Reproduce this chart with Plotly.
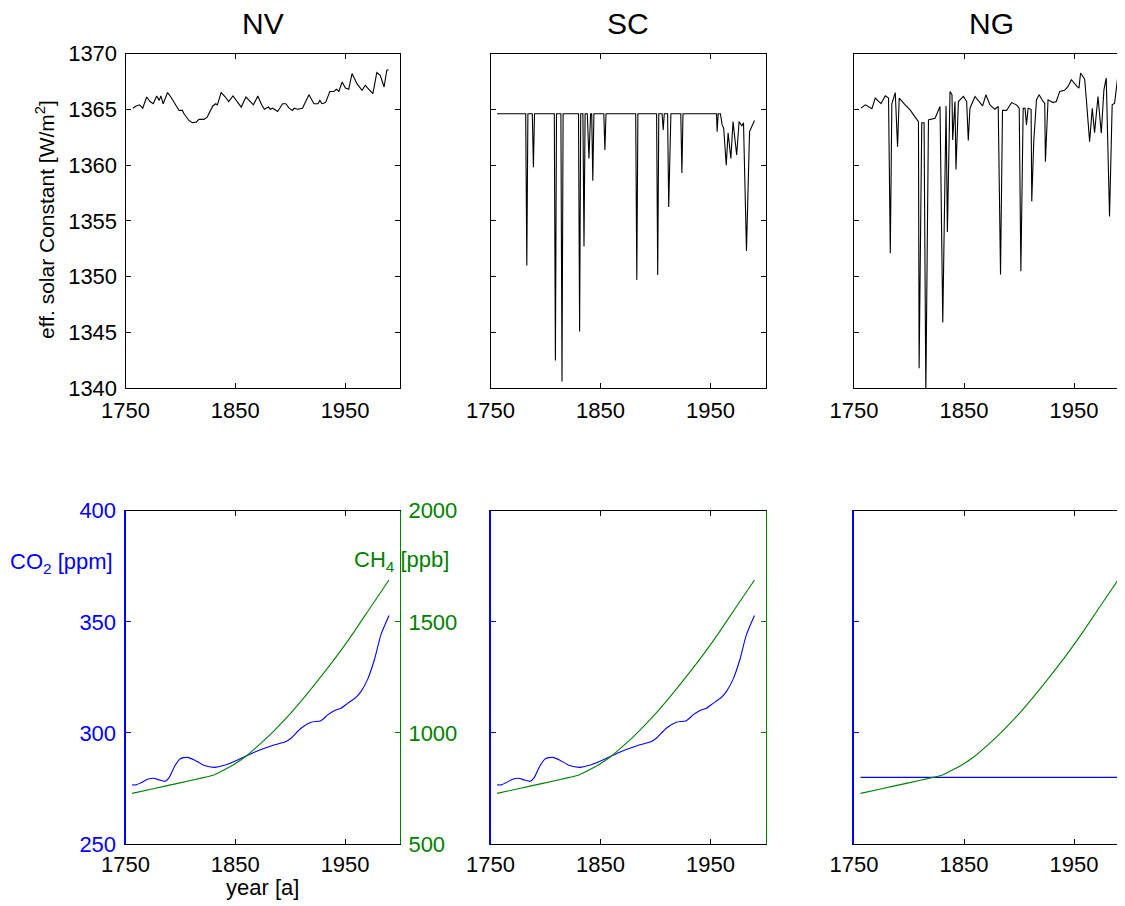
import plotly.graph_objects as go

# ---------------- data ----------------
titles = ["NV", "SC", "NG"]
x_ticks = [1750, 1850, 1950]
solar_ticks = [1340, 1345, 1350, 1355, 1360, 1365, 1370]
co2_ticks = [250, 300, 350, 400]
ch4_ticks = [500, 1000, 1500, 2000]

nv_years = [1756.7, 1759.7, 1762.7, 1765.7, 1769.3, 1772.3, 1775.3, 1778.4, 1780.7, 1782.2,
            1784.3, 1788.3, 1791.3, 1795.8, 1798.8, 1801.8, 1803.3, 1807.8, 1810.9, 1814.5,
            1816.8, 1821.4, 1824.4, 1829.5, 1832.2, 1833.7, 1837.1, 1841.0, 1844.0, 1847.9,
            1851.5, 1855.4, 1859.7, 1863.5, 1866.5, 1870.5, 1874.0, 1876.5, 1880.1, 1881.9,
            1884.0, 1888.6, 1893.1, 1896.0, 1899.0, 1902.1, 1903.6, 1906.6, 1911.2, 1914.1,
            1917.1, 1921.6, 1925.2, 1927.0, 1929.0, 1932.2, 1936.1, 1939.7, 1942.2, 1944.3,
            1947.3, 1950.3, 1953.3, 1956.3, 1960.8, 1965.4, 1968.4, 1971.4, 1975.3, 1978.9,
            1982.0, 1985.5, 1988.0, 1989.5]
nv_vals = [1365.1, 1365.3, 1365.4, 1365.1, 1366.1, 1365.7, 1365.5, 1366.2, 1365.8, 1366.2,
           1365.5, 1366.5, 1366.1, 1365.4, 1364.9, 1364.9, 1364.6, 1364.0, 1363.8, 1363.85,
           1364.1, 1364.1, 1364.3, 1365.3, 1365.5, 1365.4, 1366.5, 1366.1, 1365.7, 1366.2,
           1365.7, 1365.2, 1366.1, 1365.7, 1365.4, 1366.2, 1365.4, 1365.0, 1365.2, 1365.0,
           1365.1, 1364.8, 1365.5, 1365.5, 1365.1, 1364.9, 1365.1, 1365.0, 1365.1, 1365.7,
           1366.3, 1365.5, 1365.5, 1365.8, 1365.5, 1365.6, 1366.6, 1366.6, 1366.8, 1366.6,
           1367.45, 1366.9, 1366.8, 1368.2, 1367.3, 1366.7, 1367.15, 1366.8, 1366.4, 1368.3,
           1368.05, 1367.0, 1368.5, 1368.55]

sc_years = [1756, 1782, 1783, 1784, 1788, 1789, 1790, 1808, 1809, 1810, 1814, 1815, 1816,
            1830, 1831, 1832, 1834, 1835, 1836, 1838, 1839.5, 1841, 1842, 1843, 1844,
            1853, 1854, 1855, 1882, 1883, 1884, 1901, 1902, 1903, 1906, 1907, 1908,
            1911, 1912, 1913, 1914, 1923, 1924, 1925, 1955.5, 1956, 1957, 1959, 1960.6,
            1962, 1964.3, 1966, 1968.5, 1970.5, 1973.8, 1976, 1978.5, 1980, 1982.7,
            1985.5, 1987, 1990]
sc_vals = [1364.6, 1364.6, 1351.0, 1364.6, 1364.6, 1359.8, 1364.6, 1364.6, 1342.5, 1364.6,
           1364.6, 1340.6, 1364.6, 1364.6, 1345.1, 1364.6, 1364.6, 1352.7, 1364.6, 1364.6,
           1360.6, 1364.6, 1364.6, 1358.6, 1364.6, 1364.6, 1361.35, 1364.6, 1364.6, 1349.7,
           1364.6, 1364.6, 1350.15, 1364.6, 1364.6, 1363.15, 1364.6, 1364.6, 1356.25, 1361.35,
           1364.6, 1364.6, 1359.3, 1364.6, 1364.6, 1363.0, 1364.6, 1364.6, 1363.6, 1363.3,
           1360.0, 1362.9, 1360.6, 1363.9, 1360.9, 1363.9, 1363.5, 1363.8, 1352.3, 1363.0,
           1363.3, 1364.0]

ng_years = [1756.3, 1760.3, 1766.3, 1769.3, 1774.5, 1778.4, 1781.4, 1783.0, 1784.4, 1787.5,
            1789.6, 1791.1, 1796.5, 1801.0, 1805.6, 1808.6, 1809.2, 1811.6, 1813.7, 1815.3,
            1817.7, 1823.7, 1828.2, 1830.7, 1833.7, 1834.9, 1837.3, 1839.1, 1839.7, 1841.8,
            1842.7, 1844.9, 1849.4, 1852.4, 1853.9, 1855.4, 1860.0, 1864.5, 1866.9, 1869.9,
            1873.6, 1878.0, 1881.1, 1883.2, 1885.0, 1888.7, 1893.2, 1897.7, 1900.2, 1901.7,
            1903.8, 1905.5, 1906.8, 1908.3, 1911.0, 1911.6, 1913.4, 1915.9, 1918.3, 1921.9,
            1923.4, 1924.0, 1926.4, 1930.9, 1933.9, 1937.0, 1941.5, 1944.6, 1947.6, 1952.7,
            1954.5, 1956.0, 1959.7, 1961.2, 1964.2, 1966.6, 1968.7, 1971.8, 1974.8, 1977.2,
            1979.3, 1982.3, 1984.7, 1986.9, 1989.9]
ng_vals = [1365.1, 1365.4, 1365.05, 1366.0, 1365.5, 1366.2, 1366.0, 1352.1, 1365.5, 1366.5,
           1361.65, 1366.0, 1365.4, 1364.95, 1364.3, 1363.9, 1341.8, 1363.8, 1363.8, 1339.5,
           1364.05, 1364.2, 1365.25, 1345.9, 1365.3, 1354.0, 1366.6, 1366.3, 1362.25, 1365.7,
           1359.6, 1365.7, 1366.15, 1365.7, 1362.2, 1365.1, 1366.15, 1365.55, 1365.3, 1366.3,
           1365.4, 1365.0, 1365.25, 1350.2, 1364.9, 1364.9, 1365.6, 1365.4, 1365.1, 1350.5,
           1365.1, 1365.1, 1363.6, 1365.1, 1365.0, 1356.75, 1362.1, 1365.85, 1366.3, 1365.7,
           1365.55, 1360.3, 1365.85, 1365.6, 1365.7, 1366.6, 1366.7, 1367.05, 1367.65, 1367.05,
           1366.9, 1368.25, 1367.7, 1365.9, 1362.1, 1365.1, 1362.9, 1366.15, 1362.85, 1366.75,
           1367.8, 1355.4, 1365.4, 1365.55, 1368.0]

co2_years = [1756, 1759.6, 1764.1, 1770.2, 1775.6, 1780.8, 1786.0, 1789.9, 1794.5, 1799.9,
             1806.6, 1812.7, 1821.8, 1830.9, 1840.0, 1852.1, 1867.3, 1882.5, 1896.1, 1900.7,
             1909.8, 1918.9, 1928.0, 1934.1, 1940.1, 1946.2, 1952.3, 1959.9, 1964.4, 1970.5,
             1976.6, 1982.6, 1990]
co2_vals = [276.6, 276.6, 277.6, 279.1, 279.6, 278.8, 278.2, 280.0, 284.8, 288.4,
            289.0, 287.8, 285.3, 284.5, 285.4, 287.8, 291.3, 294.1, 296.1, 297.6,
            302.1, 304.8, 305.5, 308.1, 310.0, 311.1, 313.3, 316.0, 318.6, 324.1,
            332.8, 344.1, 352.8]

ch4_years = [1756, 1776.3, 1797.5, 1821.8, 1830.9, 1840.0, 1849.1, 1858.2, 1867.3, 1882.5,
             1897.6, 1912.8, 1928.0, 1943.2, 1958.3, 1973.5, 1990]
ch4_vals = [728, 750, 773, 800, 812, 834, 859, 889, 927, 996,
            1073, 1160, 1253, 1351, 1456, 1568, 1688]

co2_const_years = [1756, 1990]
co2_const_vals = [280, 280]

# ---------------- layout helpers ----------------
# the page body adds an 8 px margin, so reference pixel positions are shifted by OFF
OFF = 8.0
W, H = 1125 - int(OFF), 906 - int(OFF)
FONT = "Liberation Sans, Arial, Helvetica, sans-serif"
BLUE = "#0000FF"
GREEN = "#008000"

col_px = [(125.5, 400.0), (490.5, 765.5), (854.0, 1125.0)]
xmax = [2000, 2000, 1750 + (1125.0 - 854.0) / 1.1]
top_px = (53.5, 388.3)
bot_px = (510.7, 844.0)


def px_x(v):
    return (v - OFF) / W


def px_y(v):
    return 1 - (v - OFF) / H


def xdom(c):
    return [px_x(col_px[c][0]), min(1.0, px_x(col_px[c][1]))]


def ydom(r):
    return [px_y(r[1]), px_y(r[0])]


fig = go.Figure()

# top row solar constant
solar_series = [(nv_years, nv_vals), (sc_years, sc_vals), (ng_years, ng_vals)]
for c in range(3):
    xs = "x" if c == 0 else f"x{c + 1}"
    ys = "y" if c == 0 else f"y{c + 1}"
    fig.add_trace(go.Scatter(x=solar_series[c][0], y=solar_series[c][1], mode="lines",
                             line=dict(color="black", width=1.1), xaxis=xs, yaxis=ys,
                             showlegend=False, hoverinfo="skip"))

# bottom row CO2 / CH4
co2_series = [(co2_years, co2_vals), (co2_years, co2_vals), (co2_const_years, co2_const_vals)]
for c in range(3):
    xn = 4 + c
    yco2 = 4 + 2 * c
    ych4 = 5 + 2 * c
    fig.add_trace(go.Scatter(x=ch4_years, y=ch4_vals, mode="lines",
                             line=dict(color=GREEN, width=1.1, shape="spline", smoothing=0.6),
                             xaxis=f"x{xn}", yaxis=f"y{ych4}", showlegend=False, hoverinfo="skip"))
    fig.add_trace(go.Scatter(x=co2_series[c][0], y=co2_series[c][1], mode="lines",
                             line=dict(color=BLUE, width=1.1, shape="spline", smoothing=0.6),
                             xaxis=f"x{xn}", yaxis=f"y{yco2}", showlegend=False, hoverinfo="skip"))

layout = dict(width=W, height=H, margin=dict(l=0, r=0, t=0, b=0, autoexpand=False),
              paper_bgcolor="white", plot_bgcolor="white",
              font=dict(family=FONT, size=22, color="black"), showlegend=False)

tickfont = dict(family=FONT, size=22, color="black")

for c in range(3):
    # top row
    xk = "xaxis" if c == 0 else f"xaxis{c + 1}"
    yk = "yaxis" if c == 0 else f"yaxis{c + 1}"
    ya = "y" if c == 0 else f"y{c + 1}"
    xa = "x" if c == 0 else f"x{c + 1}"
    layout[xk] = dict(domain=xdom(c), range=[1750, xmax[c]], anchor=ya, automargin=False,
                      tickvals=x_ticks, ticks="inside", ticklen=5, tickcolor="black",
                      showline=True, linecolor="black", linewidth=1, mirror="ticks",
                      showgrid=False, zeroline=False, tickfont=tickfont, ticklabelstandoff=2)
    layout[yk] = dict(domain=ydom(top_px), range=[1340, 1370], anchor=xa, automargin=False,
                      tickvals=solar_ticks, ticks="inside", ticklen=5, tickcolor="black",
                      showline=True, linecolor="black", linewidth=1,
                      mirror="ticks" if c < 2 else False,
                      showticklabels=(c == 0), showgrid=False, zeroline=False,
                      tickfont=tickfont, ticklabelstandoff=3)
    # bottom row
    xn = 4 + c
    yco2 = 4 + 2 * c
    ych4 = 5 + 2 * c
    layout[f"xaxis{xn}"] = dict(domain=xdom(c), range=[1750, xmax[c]], anchor=f"y{yco2}",
                                automargin=False,
                                tickvals=x_ticks, ticks="inside", ticklen=5, tickcolor="black",
                                showline=True, linecolor="black", linewidth=1, mirror="ticks",
                                showgrid=False, zeroline=False, tickfont=tickfont,
                                ticklabelstandoff=1)
    layout[f"yaxis{yco2}"] = dict(domain=ydom(bot_px), range=[250, 400], anchor=f"x{xn}",
                                  automargin=False,
                                  tickvals=co2_ticks, ticks="inside", ticklen=5, tickcolor=BLUE,
                                  showline=True, linecolor=BLUE, linewidth=2, mirror=False,
                                  showticklabels=(c == 0), showgrid=False, zeroline=False,
                                  tickfont=dict(family=FONT, size=22, color=BLUE),
                                  ticklabelstandoff=3)
    layout[f"yaxis{ych4}"] = dict(domain=ydom(bot_px), range=[500, 2000], anchor=f"x{xn}",
                                  automargin=False,
                                  overlaying=f"y{yco2}", side="right",
                                  tickvals=ch4_ticks, ticks="inside" if c < 2 else "",
                                  ticklen=5, tickcolor=GREEN,
                                  showline=(c < 2), linecolor=GREEN, linewidth=1,
                                  showticklabels=(c == 0), showgrid=False, zeroline=False,
                                  tickfont=dict(family=FONT, size=22, color=GREEN),
                                  ticklabelstandoff=3)

annotations = []
centers = [262.75, 628.0, 991.0]
for c in range(3):
    annotations.append(dict(text=titles[c], x=px_x(centers[c]), y=px_y(23), xref="paper",
                            yref="paper", showarrow=False, xanchor="center", yanchor="middle",
                            font=dict(family=FONT, size=30, color="black")))
annotations.append(dict(text="eff. solar Constant [W/m<sup>2</sup>]", x=px_x(45), y=px_y(220),
                        xref="paper", yref="paper", showarrow=False, textangle=-90,
                        xanchor="center", yanchor="middle",
                        font=dict(family=FONT, size=21, color="black")))
annotations.append(dict(text="year [a]", x=px_x(262.75), y=px_y(887), xref="paper",
                        yref="paper", showarrow=False, xanchor="center", yanchor="middle",
                        font=dict(family=FONT, size=22, color="black")))
annotations.append(dict(text="CO<sub>2</sub> [ppm]", x=px_x(61), y=px_y(563), xref="paper",
                        yref="paper", showarrow=False, xanchor="center", yanchor="middle",
                        font=dict(family=FONT, size=22, color=BLUE)))
annotations.append(dict(text="CH<sub>4</sub> [ppb]", x=px_x(401), y=px_y(561), xref="paper",
                        yref="paper", showarrow=False, xanchor="center", yanchor="middle",
                        font=dict(family=FONT, size=22, color=GREEN)))
layout["annotations"] = annotations

fig.update_layout(**layout)
fig.write_html("out.html")
